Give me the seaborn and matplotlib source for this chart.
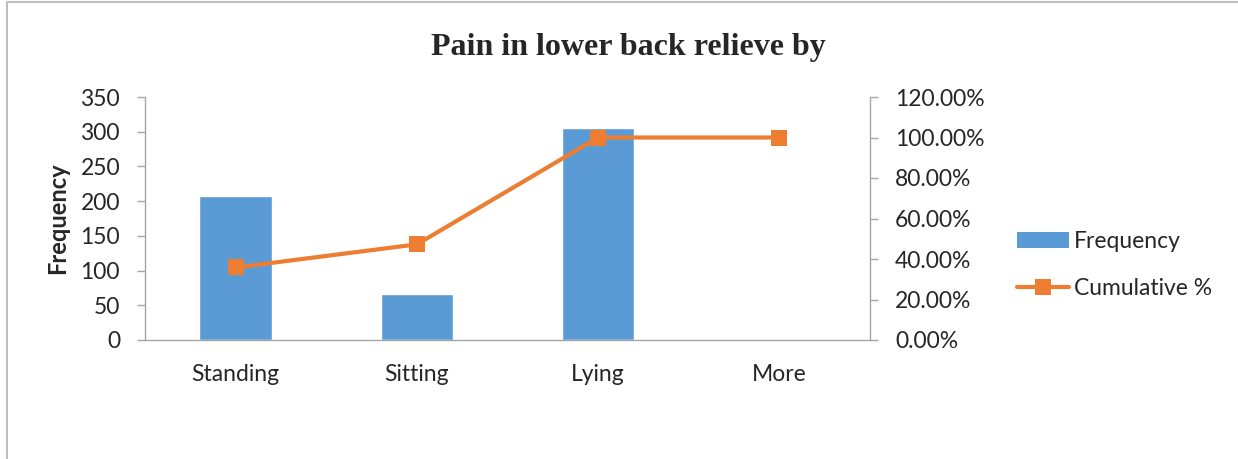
import numpy as np
import pandas as pd
import matplotlib
matplotlib.use("Agg")
import matplotlib.pyplot as plt
from matplotlib.lines import Line2D
from matplotlib.patches import Patch
from matplotlib.ticker import FixedLocator, FuncFormatter
import seaborn as sns

# Data
categories = ["Standing", "Sitting", "Lying", "More"]
frequency = [207, 66, 305, 0]
cumulative_pct = [35.81, 47.23, 100.0, 100.0]

bar_color = "#5B9BD5"
line_color = "#ED7D31"
axis_grey = "#A6A6A6"

sns.set_style("white")
plt.rcParams["font.family"] = ["Lato", "DejaVu Sans"]

df = pd.DataFrame({"category": categories, "frequency": frequency, "cum": cumulative_pct})

fig = plt.figure(figsize=(12.38, 4.59), dpi=100)
ax = fig.add_axes([145 / 1238, 1 - 340 / 459, 725 / 1238, 243 / 459])

sns.barplot(data=df, x="category", y="frequency", color=bar_color, width=0.4,
            saturation=1, ax=ax)

ax2 = ax.twinx()
sns.lineplot(data=df, x="category", y="cum", color=line_color, marker="s",
             markersize=11, markeredgewidth=0, linewidth=3, ax=ax2, sort=False)

ax.set_xlim(-0.5, 3.5)
ax.set_ylim(0, 350)
ax.set_yticks(np.arange(0, 351, 50))
ax2.set_ylim(0, 120)
ax2.set_yticks(np.arange(0, 121, 20))
ax2.yaxis.set_major_formatter(FuncFormatter(lambda v, p: f"{v:.2f}%"))

tick_fs = 16.5
ax.set_xlabel("")
ax2.set_ylabel("")
ax.set_ylabel("Frequency", fontsize=17, fontweight="bold", labelpad=8)

ax.xaxis.set_minor_locator(FixedLocator([-0.5, 0.5, 1.5, 2.5, 3.5]))
ax.tick_params(axis="x", which="major", length=0, pad=17, labelsize=tick_fs)
ax.tick_params(axis="x", which="minor", length=7, color=axis_grey, width=1)
ax.tick_params(axis="y", length=6, color=axis_grey, width=1, labelsize=tick_fs, pad=12)
ax2.tick_params(axis="y", length=6, color=axis_grey, width=1, labelsize=tick_fs, pad=12)

for a in (ax, ax2):
    a.spines["top"].set_visible(False)
    for side in ("left", "right", "bottom"):
        a.spines[side].set_color(axis_grey)
        a.spines[side].set_linewidth(1)
ax.spines["right"].set_visible(False)
ax2.spines["left"].set_visible(False)
ax2.spines["bottom"].set_visible(False)

fig.text(628 / 1238, 1 - 48 / 459, "Pain in lower back relieve by", ha="center",
         va="center", fontsize=23, fontweight="bold", family="Liberation Serif")

handles = [Patch(facecolor=bar_color, edgecolor="none"),
           Line2D([0], [0], color=line_color, lw=3, marker="s", markersize=11,
                  markeredgewidth=0)]
fig.legend(handles, ["Frequency", "Cumulative %"], loc="center left",
           bbox_to_anchor=(996 / 1238, 1 - 265 / 459), frameon=False,
           fontsize=tick_fs, handlelength=2.3, handletextpad=0.2, labelspacing=1.1)

# outer chart border (top and left edges visible in the crop)
fig.add_artist(Line2D([7 / 1238, 7 / 1238], [0, 1 - 2 / 459], color="#BFBFBF", lw=1.5))
fig.add_artist(Line2D([7 / 1238, 1], [1 - 2 / 459, 1 - 2 / 459], color="#BFBFBF", lw=1.5))

fig.savefig("out.png", dpi=100)
